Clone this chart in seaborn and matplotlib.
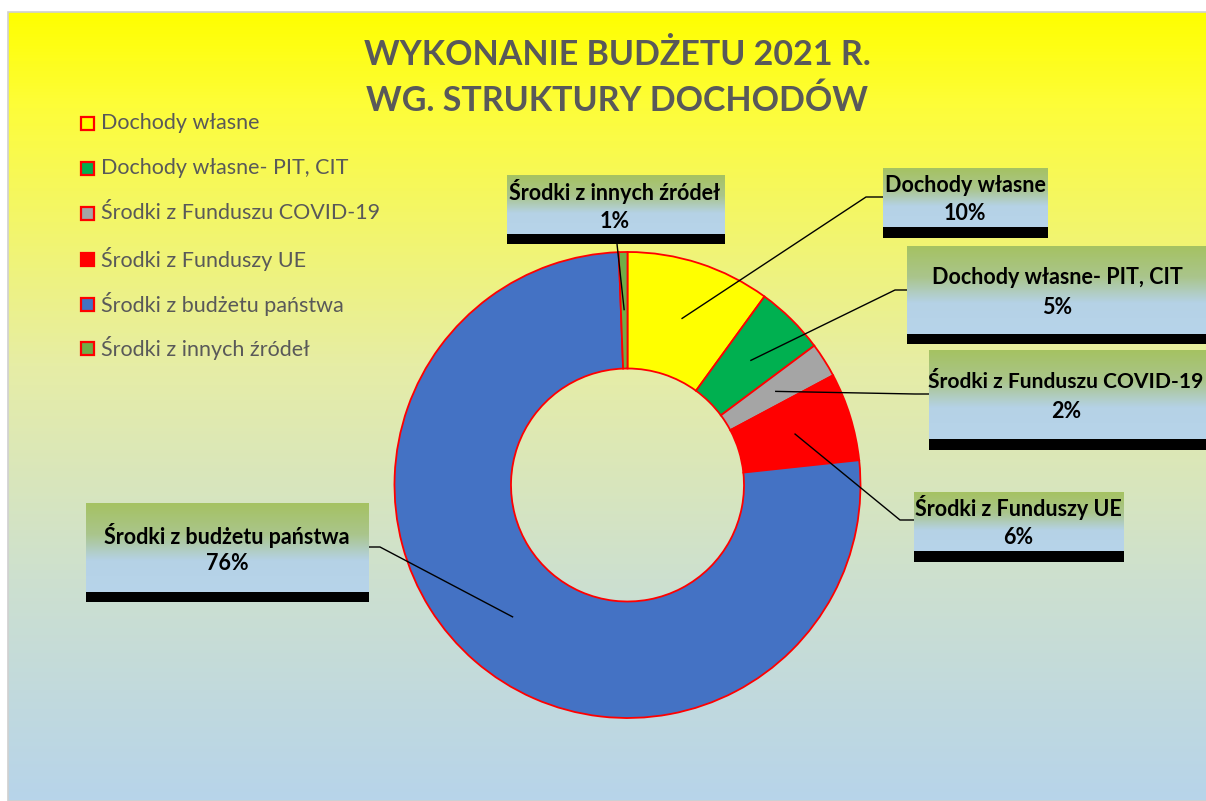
import numpy as np
import matplotlib
matplotlib.use("Agg")
import matplotlib.pyplot as plt
import seaborn as sns
from matplotlib.colors import LinearSegmentedColormap
from matplotlib.patches import Rectangle

# ---------------- data ----------------
categories = [
    "Dochody własne",
    "Dochody własne- PIT, CIT",
    "Środki z Funduszu COVID-19",
    "Środki z Funduszy UE",
    "Środki z budżetu państwa",
    "Środki z innych źródeł",
]
shares = [10.0, 4.8, 2.4, 6.1, 76.1, 0.6]
slice_colors = ["#FFFF00", "#00B050", "#A5A5A5", "#FF0000", "#4472C4", "#70AD47"]
title_lines = ["WYKONANIE BUDŻETU 2021 R.", "WG. STRUKTURY DOCHODÓW"]

# ---------------- style ----------------
sns.set_theme(style="white")
FONT = ["Lato", "DejaVu Sans"]
plt.rcParams["font.family"] = FONT
palette = sns.color_palette(slice_colors)

W, H = 1206, 801
fig = plt.figure(figsize=(W / 100, H / 100), dpi=100)
fig.patch.set_facecolor("white")

# background gradient (chart area)
ax_bg = fig.add_axes([8 / W, 0, (W - 8) / W, (H - 12) / H])
bg_cmap = LinearSegmentedColormap.from_list(
    "bg", [(0, "#FFFF00"), (0.12, "#FDFD3A"), (0.45, "#E6EDA6"),
           (0.72, "#CDE0CF"), (1, "#B7D4EA")])
grad = np.linspace(0, 1, 256).reshape(-1, 1)
ax_bg.imshow(grad, cmap=bg_cmap, aspect="auto", extent=[0, 1, 0, 1], origin="upper")
ax_bg.set_axis_off()
fig.patches.append(Rectangle((7.5 / W, 0), (W - 7) / W, (H - 11.5) / H, transform=fig.transFigure,
                             fill=False, edgecolor="#D0D0D0", linewidth=1.2, zorder=5))

# ---------------- donut ----------------
cx, cy, R = 627.5, 485.0, 233.0
ax = fig.add_axes([(cx - R) / W, (H - cy - R) / H, 2 * R / W, 2 * R / H], zorder=2)
wedges, _ = ax.pie(shares, colors=palette, startangle=90, counterclock=False, radius=1.0,
                   wedgeprops=dict(width=0.5, edgecolor="#FF0000", linewidth=1.3))
for w in wedges:
    w.set_clip_on(False)
ax.set_xlim(-1, 1)
ax.set_ylim(-1, 1)
ax.set_aspect("equal")
ax.set_axis_off()

# ---------------- overlay (pixel coordinates, y down) ----------------
ax_ov = fig.add_axes([0, 0, 1, 1], zorder=3)
ax_ov.patch.set_alpha(0)
ax_ov.set_axis_off()

# title
for line, ty in zip(title_lines, [55, 101]):
    ax_ov.text(617, ty, line, ha="center", va="center", fontsize=24.5, fontweight="bold",
               color="#595959")

# legend
leg_y = [123, 168, 213, 259, 304, 348]
for cat, col, ly in zip(categories, slice_colors, leg_y):
    ax_ov.add_patch(Rectangle((80.5, ly - 6.5), 13, 13, facecolor=col, edgecolor="#FF0000",
                              linewidth=1.6))
    ax_ov.text(101, ly, cat, ha="left", va="center", fontsize=15.5, color="#595959")

# data labels: box (x0, x1, top, bar_top, bar_bottom), text centre x, line ys, elbow, box anchor, size
label_layout = [
    (883, 1048, 168, 227, 238, 965, 185, 214, (866, 197), (883, 197), 15.5),
    (907, 1206, 246, 334, 344, 1057, 277, 307, (895, 290), (907, 290), 15.5),
    (929, 1206, 350, 439, 450, 1066, 382, 412, (915, 394), (929, 394), 15.1),
    (914, 1124, 492, 551, 562, 1018, 508, 538, (900, 520), (914, 520), 15.5),
    (86, 369, 503, 592, 602, 227, 535, 563, (380, 547), (369, 547), 15.5),
    (507, 725, 175, 234, 244, 615, 192, 222, (617, 244), (617, 244), 15.5),
]
box_cmap = LinearSegmentedColormap.from_list(
    "box", [(0, "#A5C262"), (0.35, "#AAC58C"), (0.65, "#B5D2E6"), (1, "#B7D4EA")])
box_grad = np.linspace(0, 1, 128).reshape(-1, 1)

cum = 0.0
for cat, v, lay in zip(categories, shares, label_layout):
    x0, x1, top, bar_top, bar_bot, tx, ty1, ty2, elbow, anchor, fs = lay
    ax_ov.imshow(box_grad, cmap=box_cmap, aspect="auto", origin="upper",
                 extent=[x0, x1, bar_top, top], zorder=2)
    ax_ov.add_patch(Rectangle((x0, bar_top), x1 - x0, bar_bot - bar_top,
                              facecolor="black", edgecolor="none", zorder=3))
    ax_ov.text(tx, ty1, cat, ha="center", va="center", fontsize=fs, fontweight="bold",
               color="black", zorder=4)
    ax_ov.text(tx, ty2, f"{round(v):.0f}%", ha="center", va="center", fontsize=15.5,
               fontweight="bold", color="black", zorder=4)
    # leader line from the wedge middle
    theta = np.deg2rad(90 - 360 * (cum + v / 2) / 100)
    cum += v
    p_disp = ax.transData.transform((0.75 * np.cos(theta), 0.75 * np.sin(theta)))
    ax_ov.set_xlim(0, W)
    ax_ov.set_ylim(H, 0)
    px, py = ax_ov.transData.inverted().transform(p_disp)
    ax_ov.plot([px, elbow[0], anchor[0]], [py, elbow[1], anchor[1]], color="black",
               linewidth=1.0, zorder=1, solid_capstyle="butt")

ax_ov.set_xlim(0, W)
ax_ov.set_ylim(H, 0)

fig.savefig("out.png", dpi=100, facecolor="white")
